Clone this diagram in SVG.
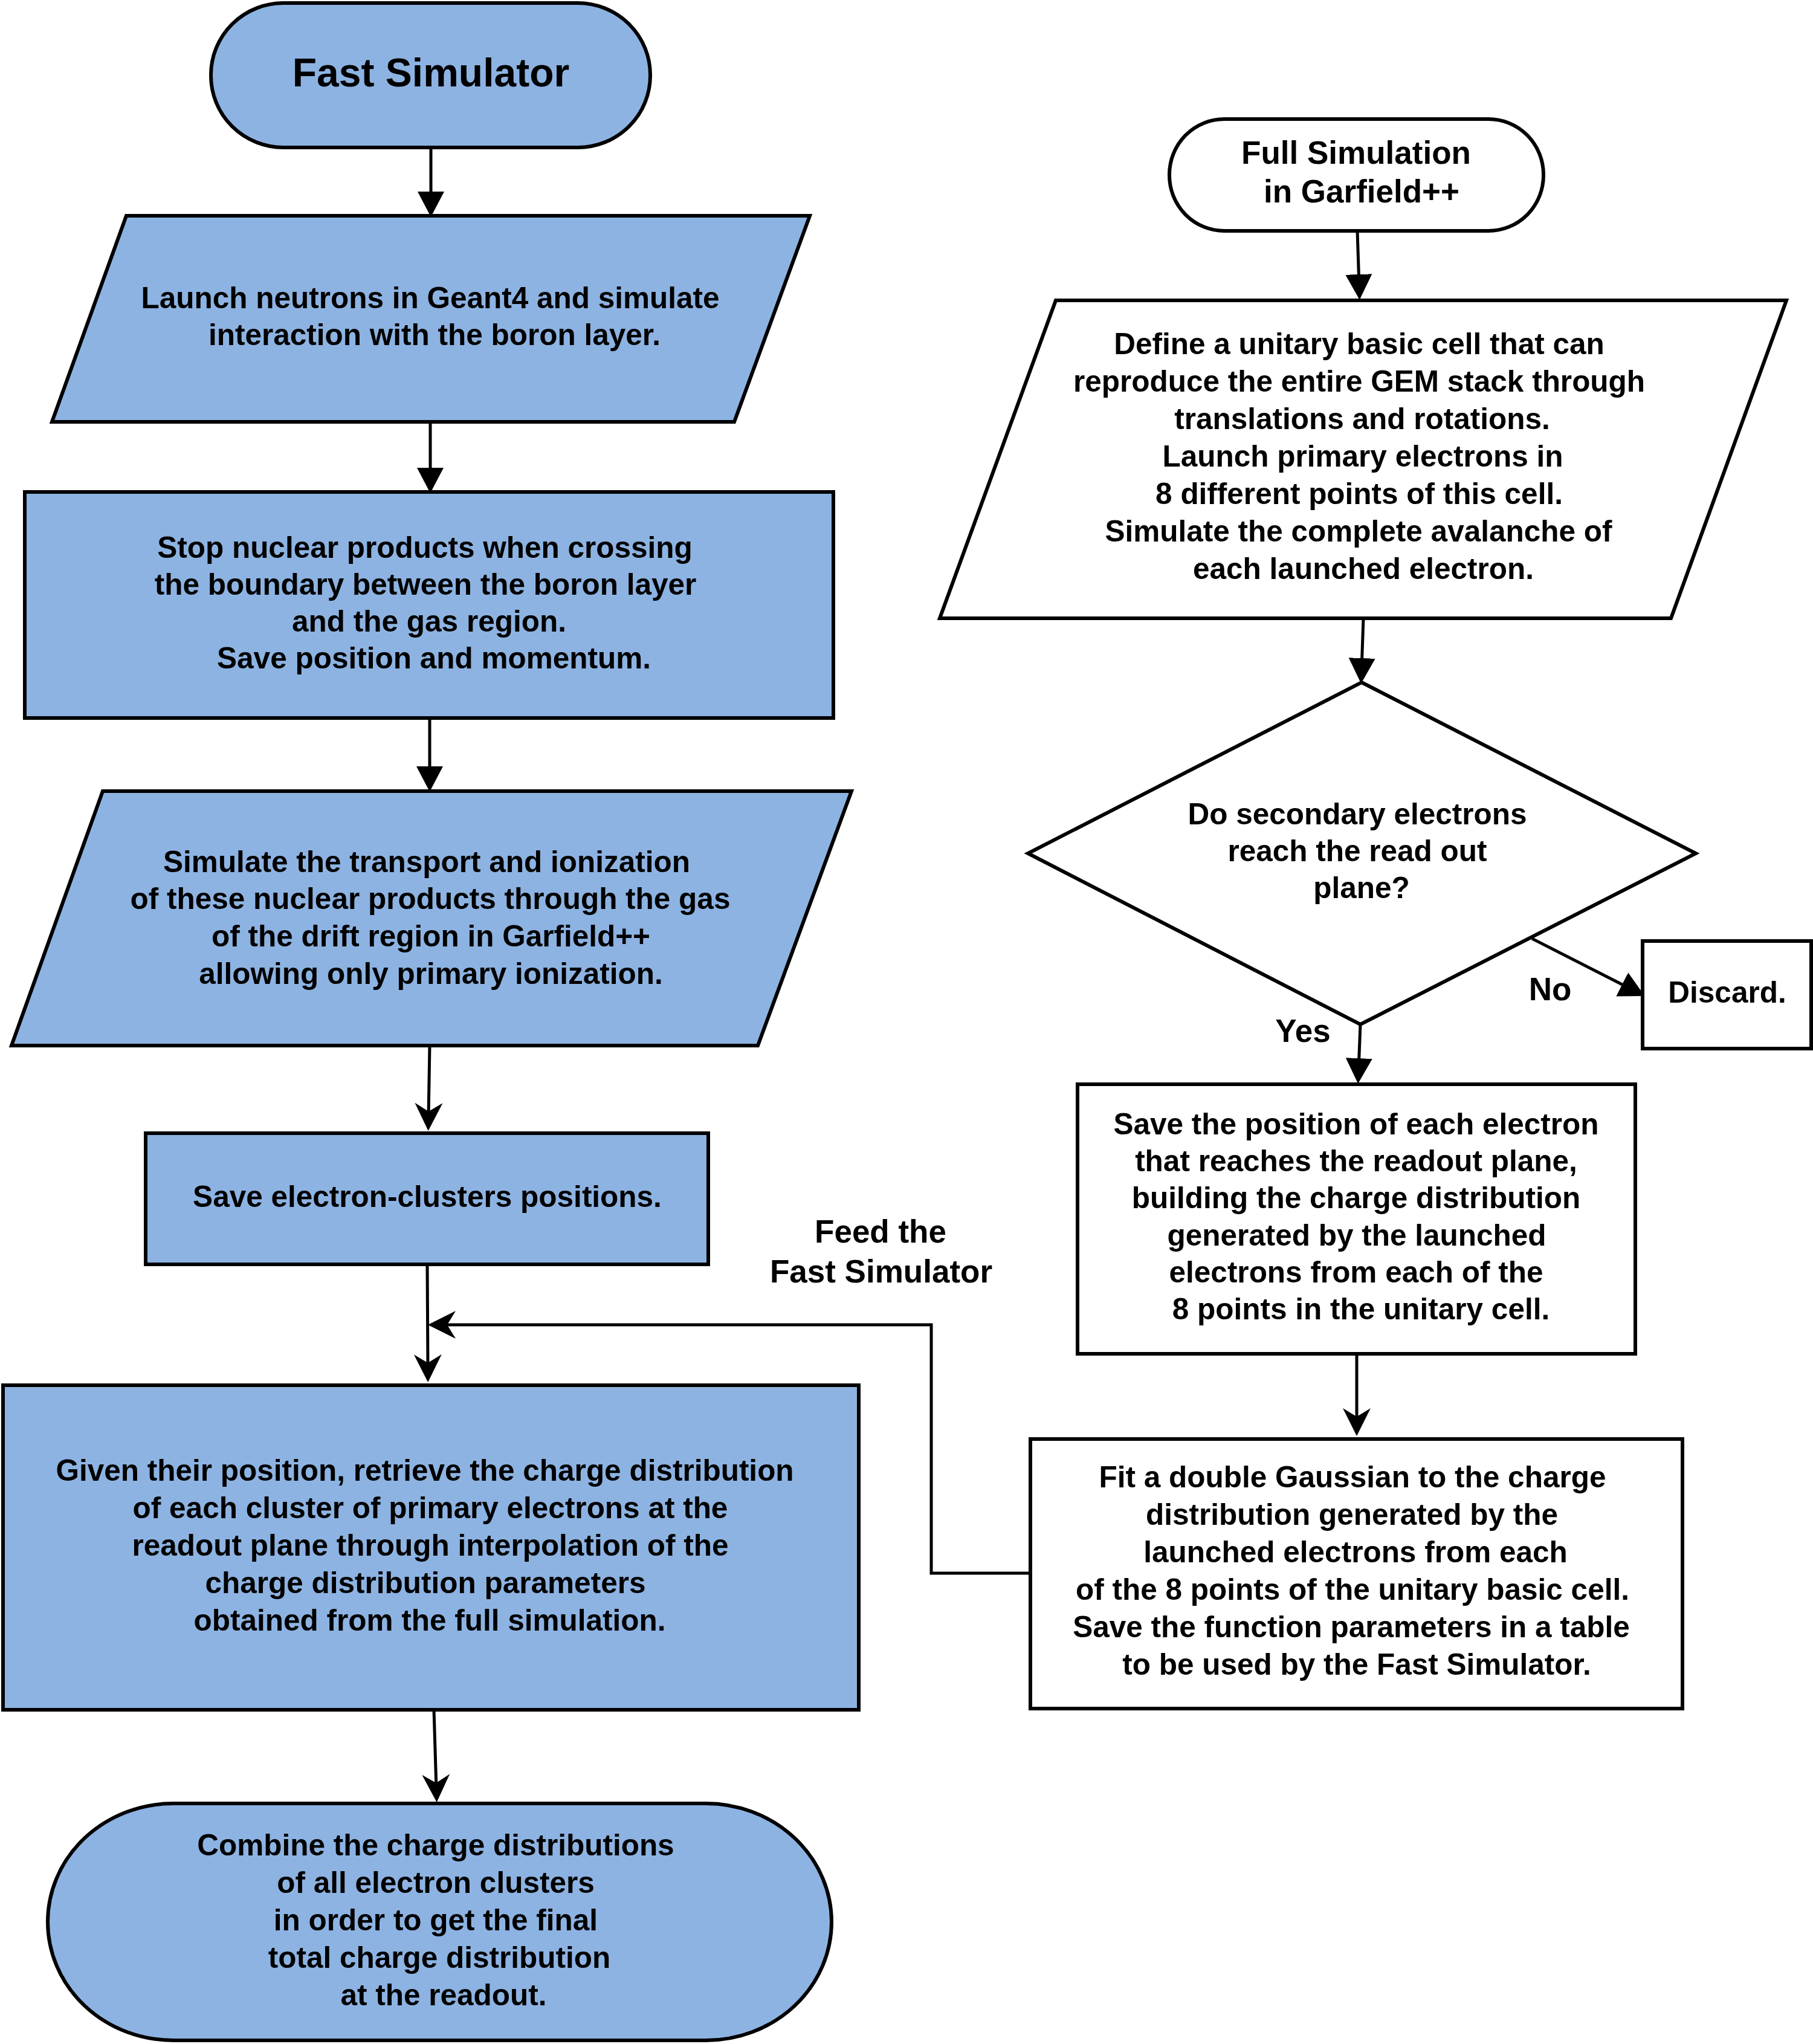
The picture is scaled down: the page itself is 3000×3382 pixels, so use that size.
<svg xmlns="http://www.w3.org/2000/svg" width="3000" height="3382" viewBox="0 0 3000 3382">
<style>
.blue{fill:#8DB3E2;stroke:#000;stroke-width:6;stroke-linejoin:miter}
.white{fill:#fff;stroke:#000;stroke-width:6;stroke-linejoin:miter}
text{font-family:"Liberation Sans",Arial,sans-serif;font-weight:bold;fill:#000;text-anchor:middle}
.t{font-size:49.5px}
.l{font-size:53px}
.title{font-size:66px}
.c{fill:none;stroke:#000;stroke-width:5}
</style>
<defs>
<marker id="block" markerUnits="userSpaceOnUse" markerWidth="44" markerHeight="46" refX="20" refY="22" orient="auto" viewBox="0 0 44 46">
<path d="M0,0 L42,22 L0,44 z" fill="#000"/>
</marker>
<marker id="classic" markerUnits="userSpaceOnUse" markerWidth="48" markerHeight="48" refX="24" refY="23" orient="auto" viewBox="0 0 48 48">
<path d="M0,0 L46,23 L0,46 L14,23 z" fill="#000"/>
</marker>
</defs>
<g id="connectors">
<path class="c" d="M713,244 L713,337" marker-end="url(#block)"/>
<path class="c" d="M712,698 L712,794" marker-end="url(#block)"/>
<path class="c" d="M711,1188 L711,1288" marker-end="url(#block)"/>
<path class="c" d="M711,1730 L709,1849" marker-end="url(#classic)"/>
<path class="c" d="M707,2092 L708,2265" marker-end="url(#classic)"/>
<path class="c" d="M1705,2603 L1541,2603 L1541,2192 L730,2192" marker-end="url(#classic)"/>
<path class="c" d="M718,2829 L722,2960" marker-end="url(#classic)"/>
<path class="c" d="M2246,382 L2249,474" marker-end="url(#block)"/>
<path class="c" d="M2256,1023 L2253,1109" marker-end="url(#block)"/>
<path class="c" d="M2251,1695 L2248,1771" marker-end="url(#block)"/>
<path class="c" d="M2535,1553 L2702,1638" marker-end="url(#block)"/>
<path class="c" d="M2245,2240 L2245,2354" marker-end="url(#classic)"/>
<text class="l" x="2156" y="1724">Yes</text>
<text class="l" x="2565" y="1655">No</text>
<text class="l" x="1457" y="2056">Feed the</text>
<text class="l" x="1458" y="2122">Fast Simulator</text>
</g>
<g id="fast-simulator">
<rect class="blue" x="349" y="5" width="727" height="239" rx="120" ry="119"/>
<text class="title" x="713" y="143">Fast Simulator</text>
</g>
<g id="launch-neutrons">
<polygon class="blue" points="209,357 1340,357 1215,698 86,698"/>
<text class="t" x="712" y="510">Launch neutrons in Geant4 and simulate</text>
<text class="t" x="719" y="571">interaction with the boron layer.</text>
</g>
<g id="stop-nuclear">
<rect class="blue" x="41" y="814" width="1338" height="374"/>
<text class="t" x="703" y="923">Stop nuclear products when crossing</text>
<text class="t" x="704" y="984">the boundary between the boron layer</text>
<text class="t" x="710" y="1045">and the gas region.</text>
<text class="t" x="718" y="1106">Save position and momentum.</text>
</g>
<g id="simulate-transport">
<polygon class="blue" points="170,1309 1409,1309 1254,1730 19,1730"/>
<text class="t" x="706" y="1443">Simulate the transport and ionization</text>
<text class="t" x="712" y="1504">of these nuclear products through the gas</text>
<text class="t" x="713" y="1566">of the drift region in Garfield++</text>
<text class="t" x="713" y="1628">allowing only primary ionization.</text>
</g>
<g id="save-clusters">
<rect class="blue" x="241" y="1875" width="931" height="217"/>
<text class="t" x="707" y="1997">Save electron-clusters positions.</text>
</g>
<g id="retrieve-charge">
<rect class="blue" x="5" y="2292" width="1416" height="537"/>
<text class="t" x="703" y="2450">Given their position, retrieve the charge distribution</text>
<text class="t" x="712" y="2512">of each cluster of primary electrons at the</text>
<text class="t" x="712" y="2574">readout plane through interpolation of the</text>
<text class="t" x="704" y="2636">charge distribution parameters</text>
<text class="t" x="711" y="2698">obtained from the full simulation.</text>
</g>
<g id="combine">
<rect class="blue" x="79" y="2984" width="1297" height="392" rx="208" ry="196"/>
<text class="t" x="721" y="3070">Combine the charge distributions</text>
<text class="t" x="721" y="3132">of all electron clusters</text>
<text class="t" x="721" y="3194">in order to get the final</text>
<text class="t" x="727" y="3256">total charge distribution</text>
<text class="t" x="734" y="3318">at the readout.</text>
</g>
<g id="full-simulation">
<rect class="white" x="1935" y="197" width="619" height="185" rx="91" ry="92"/>
<text class="l" x="2244" y="271">Full Simulation</text>
<text class="l" x="2253" y="335">in Garfield++</text>
</g>
<g id="define-cell">
<polygon class="white" points="1747,497 2956,497 2765,1023 1555,1023"/>
<text class="t" x="2249" y="586">Define a unitary basic cell that can</text>
<text class="t" x="2249" y="648">reproduce the entire GEM stack through</text>
<text class="t" x="2254" y="710">translations and rotations.</text>
<text class="t" x="2255" y="772">Launch primary electrons in</text>
<text class="t" x="2249" y="834">8 different points of this cell.</text>
<text class="t" x="2248" y="896">Simulate the complete avalanche of</text>
<text class="t" x="2256" y="958">each launched electron.</text>
</g>
<g id="decision">
<polygon class="white" points="2253,1129 2806,1412 2251,1695 1701,1412"/>
<text class="t" x="2246" y="1364">Do secondary electrons</text>
<text class="t" x="2246" y="1425">reach the read out</text>
<text class="t" x="2253" y="1486">plane?</text>
</g>
<g id="discard">
<rect class="white" x="2718" y="1557" width="279" height="178"/>
<text class="t" x="2858" y="1659">Discard.</text>
</g>
<g id="save-position">
<rect class="white" x="1783" y="1794" width="923" height="446"/>
<text class="t" x="2244" y="1877">Save the position of each electron</text>
<text class="t" x="2244" y="1938">that reaches the readout plane,</text>
<text class="t" x="2244" y="1999">building the charge distribution</text>
<text class="t" x="2245" y="2061">generated by the launched</text>
<text class="t" x="2244" y="2122">electrons from each of the</text>
<text class="t" x="2252" y="2183">8 points in the unitary cell.</text>
</g>
<g id="fit-gaussian">
<rect class="white" x="1705" y="2381" width="1079" height="446"/>
<text class="t" x="2238" y="2461">Fit a double Gaussian to the charge</text>
<text class="t" x="2237" y="2523">distribution generated by the</text>
<text class="t" x="2243" y="2585">launched electrons from each</text>
<text class="t" x="2238" y="2647">of the 8 points of the unitary basic cell.</text>
<text class="t" x="2236" y="2709">Save the function parameters in a table</text>
<text class="t" x="2245" y="2771">to be used by the Fast Simulator.</text>
</g>
</svg>
